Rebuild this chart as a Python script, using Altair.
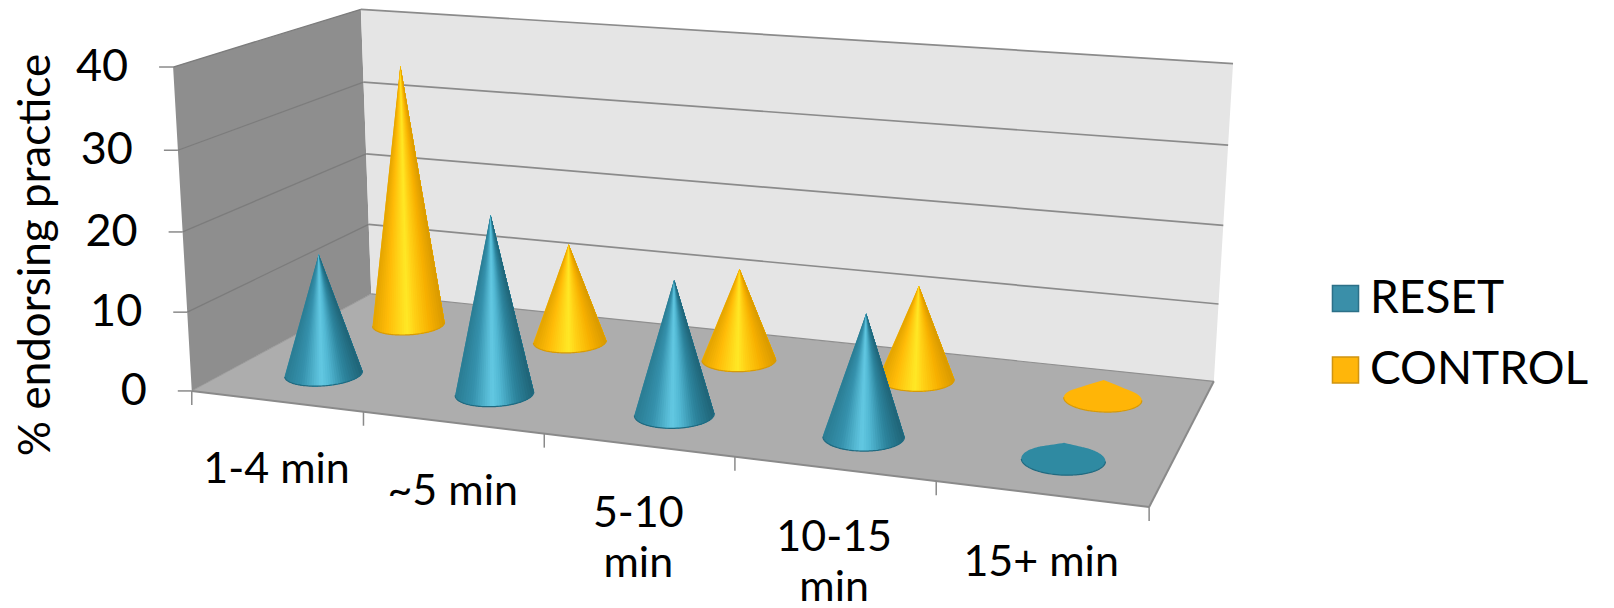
import numpy as np
import pandas as pd
import altair as alt

categories = ["1-4 min", "~5 min", "5-10\nmin", "10-15\nmin", "15+ min"]
reset_values = [15.4, 22.4, 16.6, 14.8, 2]
control_values = [35, 13.1, 12, 12, 2.4]
y_ticks = [0, 10, 20, 30, 40]
y_title = "% endorsing practice"
legend_names = ["RESET", "CONTROL"]
legend_colors = ["#3a8fa9", "#ffb60a"]
legend_strokes = ["#2c7088", "#cf9412"]

FONT = "Lato"
W, H = 1598, 597

# Camera calibration: (category, depth, value) -> page pixel
anchors_3d = [(0, 0, 0), (0, 1, 0), (5, 1, 0), (5, 0, 0), (0, 0, 40), (0, 1, 40), (5, 1, 40)]
anchors_px = [(192, 390), (371, 295), (1214, 380), (1149, 508), (173, 67), (361, 9), (1233, 64)]
A = []
for (a, b, c), (px, py) in zip(anchors_3d, anchors_px):
    A.append([a, b, c, 1, 0, 0, 0, 0, -px * a, -px * b, -px * c, -px])
    A.append([0, 0, 0, 0, a, b, c, 1, -py * a, -py * b, -py * c, -py])
P = np.linalg.svd(np.array(A, float))[2][-1].reshape(3, 4)


def proj(u, v, z):
    r = P @ np.array([u, v, z, 1.0])
    return float(r[0] / r[2]), float(r[1] / r[2])


def hull_rows(pts, key, fill="#000000"):
    pts = sorted((x + i * 1e-7, y) for i, (x, y) in enumerate(pts))

    def half(seq):
        out = []
        for p in seq:
            while len(out) > 1 and (out[-1][0] - out[-2][0]) * (p[1] - out[-2][1]) - (out[-1][1] - out[-2][1]) * (p[0] - out[-2][0]) <= 0:
                out.pop()
            out.append(p)
        return out

    a = half(pts)
    b = half(pts[::-1])[::-1]
    xs = sorted({p[0] for p in a} | {p[0] for p in b})
    ya = np.interp(xs, [p[0] for p in a], [p[1] for p in a])
    yb = np.interp(xs, [p[0] for p in b], [p[1] for p in b])
    return [{"x": round(x, 2), "yt": round(float(p), 2), "yb": round(float(q), 2), "id": key, "col": fill}
            for x, p, q in zip(xs, ya, yb)]


def mix(stops, t):
    rgb = [[int(c[i:i + 2], 16) for i in (1, 3, 5)] for _, c in stops]
    pos = [s for s, _ in stops]
    return "#%02x%02x%02x" % tuple(int(round(np.interp(t, pos, [c[k] for c in rgb]))) for k in range(3))


shade = {
    "RESET": [(0, "#2a7c93"), (.22, "#3692ad"), (.47, "#63c9e3"), (.58, "#52b8d3"), (.78, "#2d849d"), (1, "#1f6477")],
    "CONTROL": [(0, "#e3a400"), (.2, "#ffbb08"), (.48, "#ffe826"), (.6, "#ffd015"), (.8, "#f7b000"), (1, "#d99a00")],
}
flat = {"RESET": "#2f8aa2", "CONTROL": "#ffb507"}
rim = {"RESET": "#206a80", "CONTROL": "#d69a08"}
RU, RV = 0.2, 0.11
DEPTH = {"RESET": 0.25, "CONTROL": 0.75}


def cone(series, i, value):
    u0, v0 = i + 0.5, DEPTH[series]
    ang = np.linspace(0, 2 * np.pi, 97)[:-1]
    base = [proj(u0 + RU * np.cos(t), v0 + RV * np.sin(t), 0) for t in ang]
    tip = proj(u0, v0, value)
    sil = hull_rows(base + [tip], f"{series}{i}", flat[series])
    ell = hull_rows(base, "e")
    xs = np.array([r["x"] for r in ell])
    low = np.maximum([r["yt"] for r in ell], [r["yb"] for r in ell])
    rim_rows = [{"x": float(x), "y": float(y), "id": f"{series}{i}"} for x, y in zip(xs, low)]
    strips = []
    if value > 5:
        n = 32
        gx = np.linspace(xs[0], xs[-1], n + 1)
        gy = np.interp(gx, xs, low)
        for k in range(n):
            col = mix(shade[series], (k + .5) / n)
            strips += hull_rows([tip] + list(zip(gx[k:], gy[k:])), f"{series}{i}-{k:02d}", col)
    return sil, strips, rim_rows


X = alt.X("x:Q", scale=alt.Scale(domain=[8, 8 + W], nice=False, zero=False), axis=None)
YS = alt.Scale(domain=[8 + H, 8], nice=False, zero=False)
Y = alt.Y("y:Q", scale=YS, axis=None)


def area_layer(rows):
    return alt.Chart(pd.DataFrame(rows)).mark_area(orient="vertical", interpolate="linear", opacity=1).encode(
        x=X, y=alt.Y("yt:Q", scale=YS, axis=None), y2=alt.Y2("yb:Q"),
        detail="id:N", color=alt.Color("col:N", scale=None, legend=None))


walls = (
    hull_rows([proj(0, 0, 0), proj(0, 1, 0), proj(0, 1, 40), proj(0, 0, 40)], "left", "#8e8e8e")
    + hull_rows([proj(0, 1, 0), proj(5, 1, 0), proj(5, 1, 40), proj(0, 1, 40)], "back", "#e5e5e5")
    + hull_rows([proj(0, 0, 0), proj(0, 1, 0), proj(5, 1, 0), proj(5, 0, 0)], "floor", "#adadad")
)

segs = []


def seg(a, b, color, w=1.5):
    segs.append({"x": a[0], "y": a[1], "x2": b[0], "y2": b[1], "c": color, "w": w})


for z in y_ticks[1:]:
    seg(proj(0, 0, z), proj(0, 1, z), "#7c7c7c", 1.3)
    seg(proj(0, 1, z), proj(5, 1, z), "#8b8b8b", 1.7)
seg(proj(0, 0, 0), proj(0, 1, 0), "#9a9a9a", 1)
seg(proj(0, 1, 0), proj(5, 1, 0), "#8f8f8f", 1.2)
seg(proj(0, 0, 0), proj(5, 0, 0), "#8a8a8a", 2)
seg(proj(5, 0, 0), proj(5, 1, 0), "#8a8a8a", 2)
for z in y_ticks:
    p = proj(0, 0, z)
    seg((p[0] - 14, p[1]), p, "#8a8a8a", 1.5)
for i in range(len(categories) + 1):
    p = proj(i, 0, 0)
    seg(p, (p[0], p[1] + 14), "#8a8a8a", 1.5)

tick_text = []
for z in y_ticks:
    p = proj(0, 0, z)
    tick_text.append({"x": p[0] - 45, "y": p[1], "t": str(z)})
cat_text = []
for i, c in enumerate(categories):
    p = proj(i + 0.5, 0, 0)
    cat_text.append({"x": p[0], "y": p[1] + 82, "t": c})

layers = [area_layer(walls)]
layers.append(alt.Chart(pd.DataFrame(segs)).mark_rule().encode(
    x=X, y=Y, x2="x2:Q", y2="y2:Q", color=alt.Color("c:N", scale=None), size=alt.Size("w:Q", scale=None)))

for series, vals in (("CONTROL", control_values), ("RESET", reset_values)):
    sil, strips, rims = [], [], []
    for i, v in enumerate(vals):
        a, b, c = cone(series, i, v)
        sil += a
        strips += b
        rims += c
    layers.append(area_layer(sil))
    layers.append(area_layer(strips))
    layers.append(alt.Chart(pd.DataFrame(rims)).mark_line(color=rim[series], strokeWidth=1.2).encode(
        x=X, y=Y, detail="id:N", order=alt.Order("x:Q")))

layers.append(alt.Chart(pd.DataFrame(tick_text)).mark_text(
    font=FONT, fontSize=45, align="right", baseline="middle", color="#000000").encode(x=X, y=Y, text="t:N"))
layers.append(alt.Chart(pd.DataFrame(cat_text)).mark_text(
    font=FONT, fontSize=43, align="center", baseline="alphabetic", lineBreak="\n", lineHeight=50, color="#000000"
).encode(x=X, y=Y, text="t:N"))
layers.append(alt.Chart(pd.DataFrame([{"x": 37, "y": 255, "t": y_title}])).mark_text(
    font=FONT, fontSize=44, angle=270, align="center", baseline="middle", color="#000000").encode(x=X, y=Y, text="t:N"))

leg = pd.DataFrame({"x": [1345.5, 1345.5], "y": [298.5, 370], "tx": [1370, 1370], "t": legend_names,
                    "f": legend_colors, "s": legend_strokes})
layers.append(alt.Chart(leg).mark_point(shape="square", filled=True, size=680, strokeWidth=1.5, opacity=1).encode(
    x=X, y=Y, fill=alt.Fill("f:N", scale=None), stroke=alt.Stroke("s:N", scale=None)))
layers.append(alt.Chart(leg).mark_text(font=FONT, fontSize=46, align="left", baseline="middle", color="#000000").encode(
    x=alt.X("tx:Q", scale=alt.Scale(domain=[8, 8 + W], nice=False, zero=False), axis=None), y=Y, text="t:N"))

chart = alt.layer(*layers).properties(width=W, height=H, padding=0, background="#ffffff").configure_view(stroke=None)
chart.save("out.html", embed_options={"renderer": "svg", "actions": False})
